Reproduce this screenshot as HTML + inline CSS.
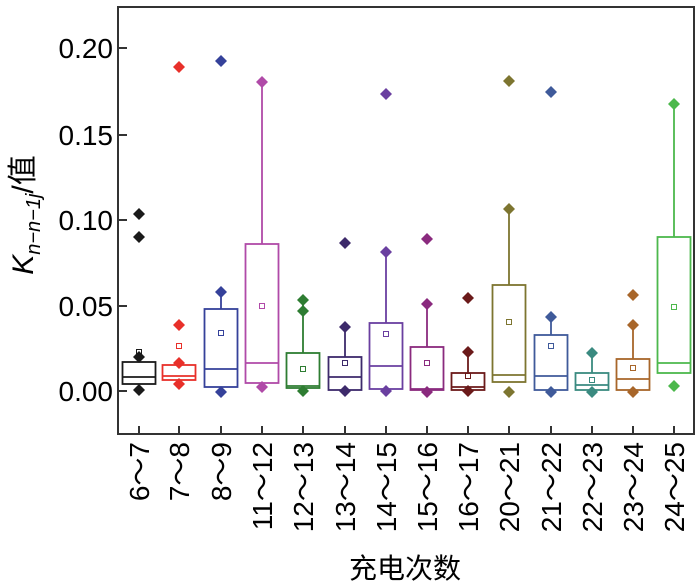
<!DOCTYPE html>
<html><head><meta charset="utf-8"><style>
html,body{margin:0;padding:0;background:#fff;}
svg{display:block;font-family:"Liberation Sans","Noto Sans CJK SC",sans-serif;}
</style></head><body>
<svg width="700" height="586" viewBox="0 0 700 586" xmlns="http://www.w3.org/2000/svg">
<defs><path id="d" d="M0,-6 L6,0 L0,6 L-6,0 Z"/></defs>
<rect x="118" y="7" width="576" height="427" fill="none" stroke="#333" stroke-width="2"/>
<g stroke="#333" stroke-width="2">
<line x1="118" y1="48" x2="127" y2="48"/><line x1="118" y1="135" x2="127" y2="135"/>
<line x1="118" y1="220" x2="127" y2="220"/><line x1="118" y1="306" x2="127" y2="306"/>
<line x1="118" y1="391" x2="127" y2="391"/>
<line x1="139" y1="434" x2="139" y2="426"/><line x1="179" y1="434" x2="179" y2="426"/>
<line x1="221" y1="434" x2="221" y2="426"/><line x1="262" y1="434" x2="262" y2="426"/>
<line x1="303" y1="434" x2="303" y2="426"/><line x1="345" y1="434" x2="345" y2="426"/>
<line x1="386" y1="434" x2="386" y2="426"/><line x1="427" y1="434" x2="427" y2="426"/>
<line x1="468" y1="434" x2="468" y2="426"/><line x1="509" y1="434" x2="509" y2="426"/>
<line x1="551" y1="434" x2="551" y2="426"/><line x1="592" y1="434" x2="592" y2="426"/>
<line x1="633" y1="434" x2="633" y2="426"/><line x1="674" y1="434" x2="674" y2="426"/>
</g>
<g font-size="28" text-anchor="end" fill="#000">
<text x="113" y="58">0.20</text><text x="113" y="145">0.15</text>
<text x="113" y="230">0.10</text><text x="113" y="316">0.05</text>
<text x="113" y="401">0.00</text>
</g>

<g fill="none" stroke-width="1.8">
<g stroke="#1a1a1a"><rect x="122.5" y="362" width="33" height="22"/><line x1="122.5" y1="377" x2="155.5" y2="377"/><rect x="136.5" y="349.5" width="5" height="5" stroke-width="1"/></g>
<g stroke="#e8302a"><rect x="162.5" y="365" width="33" height="15"/><line x1="162.5" y1="376" x2="195.5" y2="376"/><rect x="176.5" y="343.5" width="5" height="5" stroke-width="1"/></g>
<g stroke="#35419a"><line x1="221" y1="292" x2="221" y2="309"/><rect x="204.5" y="309" width="33" height="78"/><line x1="204.5" y1="369" x2="237.5" y2="369"/><rect x="218.5" y="330.5" width="5" height="5" stroke-width="1"/></g>
<g stroke="#b04aa8"><line x1="262" y1="82" x2="262" y2="244"/><rect x="245.5" y="244" width="33" height="139"/><line x1="245.5" y1="363" x2="278.5" y2="363"/><rect x="259.5" y="303.5" width="5" height="5" stroke-width="1"/></g>
<g stroke="#2e7d32"><line x1="303" y1="300" x2="303" y2="353"/><rect x="286.5" y="353" width="33" height="35"/><line x1="286.5" y1="386" x2="319.5" y2="386"/><rect x="300.5" y="366.5" width="5" height="5" stroke-width="1"/></g>
<g stroke="#3d2a6b"><line x1="345" y1="327" x2="345" y2="357"/><rect x="328.5" y="357" width="33" height="33"/><line x1="328.5" y1="377" x2="361.5" y2="377"/><rect x="342.5" y="360.5" width="5" height="5" stroke-width="1"/></g>
<g stroke="#6a3fa0"><line x1="386" y1="252" x2="386" y2="323"/><rect x="369.5" y="323" width="33" height="66"/><line x1="369.5" y1="366" x2="402.5" y2="366"/><rect x="383.5" y="331.5" width="5" height="5" stroke-width="1"/></g>
<g stroke="#8a2a7e"><line x1="427" y1="304" x2="427" y2="347"/><rect x="410.5" y="347" width="33" height="43"/><line x1="410.5" y1="389" x2="443.5" y2="389"/><rect x="424.5" y="360.5" width="5" height="5" stroke-width="1"/></g>
<g stroke="#6b1a1a"><line x1="468" y1="352" x2="468" y2="373"/><rect x="451.5" y="373" width="33" height="17"/><line x1="451.5" y1="387" x2="484.5" y2="387"/><rect x="465.5" y="373.5" width="5" height="5" stroke-width="1"/></g>
<g stroke="#7d7530"><line x1="509" y1="209" x2="509" y2="285"/><rect x="492.5" y="285" width="33" height="97"/><line x1="492.5" y1="375" x2="525.5" y2="375"/><rect x="506.5" y="319.5" width="5" height="5" stroke-width="1"/></g>
<g stroke="#3f5a9a"><line x1="551" y1="317" x2="551" y2="335"/><rect x="534.5" y="335" width="33" height="55"/><line x1="534.5" y1="376" x2="567.5" y2="376"/><rect x="548.5" y="343.5" width="5" height="5" stroke-width="1"/></g>
<g stroke="#3a8a80"><line x1="592" y1="353" x2="592" y2="373"/><rect x="575.5" y="373" width="33" height="17"/><line x1="575.5" y1="385" x2="608.5" y2="385"/><rect x="589.5" y="377.5" width="5" height="5" stroke-width="1"/></g>
<g stroke="#a8662a"><line x1="633" y1="325" x2="633" y2="359"/><rect x="616.5" y="359" width="33" height="31"/><line x1="616.5" y1="379" x2="649.5" y2="379"/><rect x="630.5" y="365.5" width="5" height="5" stroke-width="1"/></g>
<g stroke="#4cb84c"><line x1="674" y1="104" x2="674" y2="237"/><rect x="657.5" y="237" width="33" height="136"/><line x1="657.5" y1="363" x2="690.5" y2="363"/><rect x="671.5" y="304.5" width="5" height="5" stroke-width="1"/></g>
</g>

<g>
<g fill="#1a1a1a"><use href="#d" x="139" y="214"/><use href="#d" x="139" y="237"/><use href="#d" x="139" y="357"/><use href="#d" x="139" y="390"/></g>
<g fill="#e8302a"><use href="#d" x="179" y="67"/><use href="#d" x="179" y="325"/><use href="#d" x="179" y="363"/><use href="#d" x="179" y="384"/></g>
<g fill="#35419a"><use href="#d" x="221" y="61"/><use href="#d" x="221" y="292"/><use href="#d" x="221" y="392"/></g>
<g fill="#b04aa8"><use href="#d" x="262" y="82"/><use href="#d" x="262" y="387"/></g>
<g fill="#2e7d32"><use href="#d" x="303" y="300"/><use href="#d" x="303" y="311"/><use href="#d" x="303" y="391"/></g>
<g fill="#3d2a6b"><use href="#d" x="345" y="243"/><use href="#d" x="345" y="327"/><use href="#d" x="345" y="391"/></g>
<g fill="#6a3fa0"><use href="#d" x="386" y="94"/><use href="#d" x="386" y="252"/><use href="#d" x="386" y="391"/></g>
<g fill="#8a2a7e"><use href="#d" x="427" y="239"/><use href="#d" x="427" y="304"/><use href="#d" x="427" y="392"/></g>
<g fill="#6b1a1a"><use href="#d" x="468" y="298"/><use href="#d" x="468" y="352"/><use href="#d" x="468" y="391"/></g>
<g fill="#7d7530"><use href="#d" x="509" y="81"/><use href="#d" x="509" y="209"/><use href="#d" x="509" y="392"/></g>
<g fill="#3f5a9a"><use href="#d" x="551" y="92"/><use href="#d" x="551" y="317"/><use href="#d" x="551" y="392"/></g>
<g fill="#3a8a80"><use href="#d" x="592" y="353"/><use href="#d" x="592" y="392"/></g>
<g fill="#a8662a"><use href="#d" x="633" y="295"/><use href="#d" x="633" y="325"/><use href="#d" x="633" y="392"/></g>
<g fill="#4cb84c"><use href="#d" x="674" y="104"/><use href="#d" x="674" y="386"/></g>
</g>

<g font-size="28" text-anchor="end" fill="#000">
<text transform="translate(149,442) rotate(-90)">6～7</text>
<text transform="translate(189,442) rotate(-90)">7～8</text>
<text transform="translate(231,442) rotate(-90)">8～9</text>
<text transform="translate(272,442) rotate(-90)">11～12</text>
<text transform="translate(313,442) rotate(-90)">12～13</text>
<text transform="translate(355,442) rotate(-90)">13～14</text>
<text transform="translate(396,442) rotate(-90)">14～15</text>
<text transform="translate(437,442) rotate(-90)">15～16</text>
<text transform="translate(478,442) rotate(-90)">16～17</text>
<text transform="translate(519,442) rotate(-90)">20～21</text>
<text transform="translate(561,442) rotate(-90)">21～22</text>
<text transform="translate(602,442) rotate(-90)">22～23</text>
<text transform="translate(643,442) rotate(-90)">23～24</text>
<text transform="translate(684,442) rotate(-90)">24～25</text>
</g>
<text transform="translate(33,215) rotate(-90)" font-size="30" text-anchor="middle"><tspan font-style="italic">K</tspan><tspan font-style="italic" font-size="20" dy="7">n−n−1j</tspan><tspan dy="-7">/值</tspan></text>
<text x="405" y="578" font-size="28" text-anchor="middle">充电次数</text>
</svg>
</body></html>
